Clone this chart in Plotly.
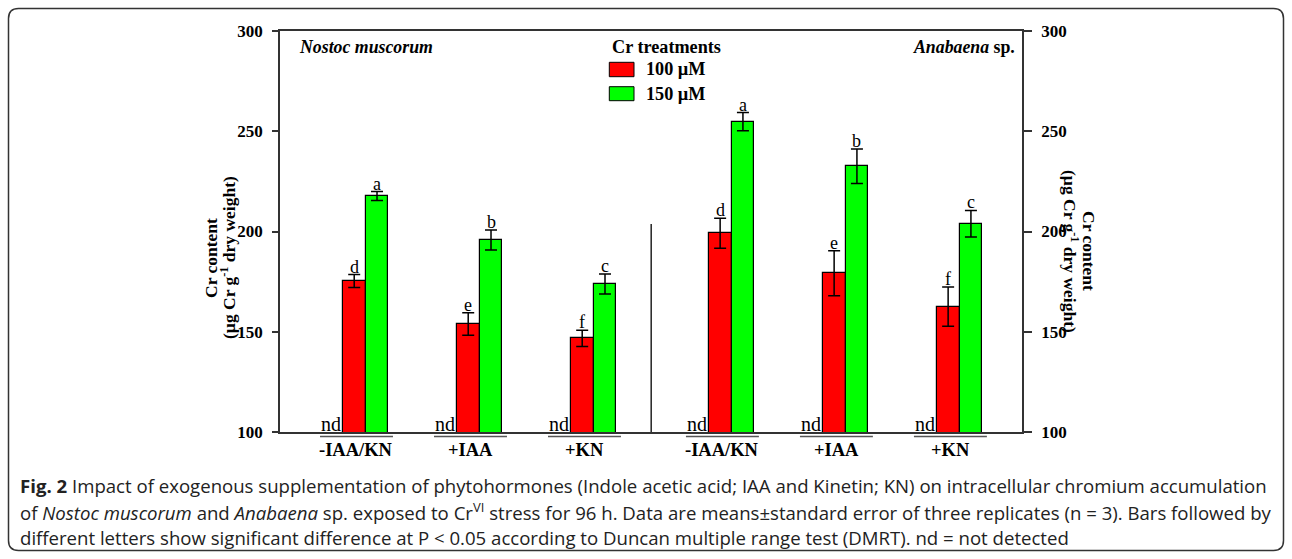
import plotly.graph_objects as go

# ---- data ----
species = ["Nostoc muscorum", "Anabaena sp."]
treatments = ["-IAA/KN", "+IAA", "+KN", "-IAA/KN", "+IAA", "+KN"]
cr100 = [175.3, 153.9, 146.7, 199.1, 179.2, 162.5]
cr100_se = [3.2, 5.6, 4.0, 7.5, 11.2, 9.8]
cr150 = [217.7, 195.8, 173.8, 254.8, 232.5, 203.9]
cr150_se = [2.2, 5.0, 5.0, 4.5, 8.6, 6.6]
letters100 = ["d", "e", "f", "d", "e", "f"]
letters150 = ["a", "b", "c", "a", "b", "c"]
control_label = "nd"
y_ticks = [100, 150, 200, 250, 300]

# ---- layout helpers ----
W, H = 1292, 559
L, R, T, B = 280, 1022, 31, 432
BW = 0.2
GAP = 0.21
xg = [i + (GAP if i >= 3 else 0) for i in range(len(treatments))]
x_red = xg
x_green = [x + BW for x in xg]
x_range = [-0.651, 5.858]

serif = "Liberation Serif, Times New Roman, serif"
sans = "Open Sans, Noto Sans, sans-serif"


def px(x):
    return (x - L) / (R - L)


def py(y):
    return (B - y) / (B - T)


fig = go.Figure()
fig.add_trace(go.Bar(
    x=x_red, y=cr100, width=BW, name="100 µM",
    marker=dict(color="#ff0000", line=dict(color="#000", width=1.2)),
    error_y=dict(type="data", array=cr100_se, color="#000", thickness=1.5, width=6),
    showlegend=False))
fig.add_trace(go.Bar(
    x=x_green, y=cr150, width=BW, name="150 µM",
    marker=dict(color="#00ff00", line=dict(color="#000", width=1.2)),
    error_y=dict(type="data", array=cr150_se, color="#000", thickness=1.5, width=6),
    showlegend=False))
# invisible trace on right axis
fig.add_trace(go.Scatter(x=[x_range[0]], y=[100], yaxis="y2", mode="markers",
                         marker=dict(opacity=0), showlegend=False, hoverinfo="skip"))

ann = []
shapes = []

# significance letters
for xs, vals, ses, lets in [(x_red, cr100, cr100_se, letters100),
                            (x_green, cr150, cr150_se, letters150)]:
    for x, v, s, t in zip(xs, vals, ses, lets):
        ann.append(dict(x=x, y=v + s, xref="x", yref="y", text=t, showarrow=False,
                        yanchor="bottom", yshift=-4,
                        font=dict(family=serif, size=18, color="#000")))

# nd labels
for x in xg:
    ann.append(dict(x=x - BW, y=100, xref="x", yref="y", text=control_label,
                    showarrow=False, yanchor="bottom", yshift=-5,
                    font=dict(family=serif, size=20, color="#000")))

# group labels + overlines
for x, t in zip(xg, treatments):
    ann.append(dict(x=x + 0.02, y=py(450), xref="x", yref="paper", text="<b>%s</b>" % t,
                    showarrow=False, yanchor="middle",
                    font=dict(family=serif, size=18.5, color="#000")))
    shapes.append(dict(type="line", xref="x", yref="paper", x0=x - 0.3, x1=x + 0.34,
                       y0=py(436.5), y1=py(436.5), line=dict(color="#555", width=1.5)))

# divider
div_x = (xg[2] + 1.5 * BW + xg[3] - 1.5 * BW) / 2
shapes.append(dict(type="line", xref="x", yref="y", x0=div_x, x1=div_x, y0=100, y1=203.7,
                   line=dict(color="#000", width=1.3)))

# species labels
ann.append(dict(x=px(297), y=py(46.7), xref="paper", yref="paper",
                text="<b><i>Nostoc muscorum</i></b>", showarrow=False,
                xanchor="left", yanchor="middle",
                font=dict(family=serif, size=17.8, color="#000")))
ann.append(dict(x=px(1017), y=py(46.7), xref="paper", yref="paper",
                text="<b><i>Anabaena</i> sp.</b>", showarrow=False,
                xanchor="right", yanchor="middle",
                font=dict(family=serif, size=17.8, color="#000")))

# manual legend
ann.append(dict(x=px(666), y=py(46.7), xref="paper", yref="paper",
                text="<b>Cr treatments</b>", showarrow=False, yanchor="middle",
                font=dict(family=serif, size=18.2, color="#000")))
for (y0, y1, col, lab) in [(62.3, 76.7, "#ff0000", "100 µM"), (86.7, 100.7, "#00ff00", "150 µM")]:
    shapes.append(dict(type="rect", xref="paper", yref="paper", x0=px(609.3), x1=px(634),
                       y0=py(y1), y1=py(y0), fillcolor=col, line=dict(color="#000", width=1)))
    ann.append(dict(x=px(644), y=py((y0 + y1) / 2), xref="paper", yref="paper",
                    text="<b>%s</b>" % lab, showarrow=False, xanchor="left", yanchor="middle",
                    font=dict(family=serif, size=18.2, color="#000")))

# axis titles (two lines each, placed separately)
t1 = "<b>Cr content</b>"
t2 = "<b>(µg Cr g<sup>-1</sup> dry weight)</b>"
for xpix, ypix, txt, ang in [(211, 258, t1, -90), (228, 258, t2, -90),
                             (1089, 251, t1, 90), (1071, 251, t2, 90)]:
    ann.append(dict(x=px(xpix), y=py(ypix), xref="paper", yref="paper", text=txt,
                    showarrow=False, textangle=ang, xanchor="center", yanchor="middle",
                    font=dict(family=serif, size=17.5, color="#000")))

# caption
cap = [
    "<b>Fig. 2</b> Impact of exogenous supplementation of phytohormones (Indole acetic acid; IAA and Kinetin; KN) on intracellular chromium accumulation",
    "of <i>Nostoc muscorum</i> and <i>Anabaena</i> sp. exposed to Cr<sup>VI</sup> stress for 96 h. Data are means±standard error of three replicates (n = 3). Bars followed by",
    "different letters show significant difference at P &lt; 0.05 according to Duncan multiple range test (DMRT). nd = not detected",
]
for i, line in enumerate(cap):
    ann.append(dict(x=px(18), y=py(485 + 26 * i), xref="paper", yref="paper", text=line,
                    showarrow=False, xanchor="left", yanchor="middle",
                    font=dict(family=sans, size=18.6, color="#222")))

# outer rounded border
x0, x1 = px(8.5), px(1283.5)
y0, y1 = py(550.5), py(8.5)
rx, ry = 10 / (R - L), 10 / (B - T)
path = (f"M {x0+rx},{y1} L {x1-rx},{y1} Q {x1},{y1} {x1},{y1-ry} "
        f"L {x1},{y0+ry} Q {x1},{y0} {x1-rx},{y0} L {x0+rx},{y0} "
        f"Q {x0},{y0} {x0},{y0+ry} L {x0},{y1-ry} Q {x0},{y1} {x0+rx},{y1} Z")
shapes.append(dict(type="path", xref="paper", yref="paper", path=path,
                   line=dict(color="#333", width=1.5)))

axis_font = dict(family=serif, size=17, color="#000")
fig.update_layout(
    width=W, height=H,
    margin=dict(l=L, r=W - R, t=T, b=H - B, pad=0),
    paper_bgcolor="white", plot_bgcolor="white",
    barmode="overlay", bargap=0,
    annotations=ann, shapes=shapes,
    xaxis=dict(range=x_range, showgrid=False, zeroline=False, showticklabels=False,
               ticks="", showline=True, linecolor="#333", linewidth=1.5, mirror=True),
    yaxis=dict(range=[100, 300], tickvals=y_ticks, ticktext=["<b>%d</b>" % v for v in y_ticks],
               showgrid=False, zeroline=False, ticks="outside", ticklen=6, tickwidth=1.5,
               tickcolor="#333", showline=True, linecolor="#333", linewidth=1.5,
               tickfont=axis_font, ticklabelstandoff=6),
    yaxis2=dict(range=[100, 300], overlaying="y", side="right", tickvals=y_ticks,
                ticktext=["<b>%d</b>" % v for v in y_ticks], showgrid=False, zeroline=False,
                ticks="outside", ticklen=8, tickwidth=1.5, tickcolor="#333", showline=True,
                linecolor="#333", linewidth=1.5, tickfont=axis_font, ticklabelstandoff=6),
)

fig.write_html("out.html", config={"displayModeBar": False},
               post_script="document.body.style.margin='0px';document.body.style.overflow='hidden';")
